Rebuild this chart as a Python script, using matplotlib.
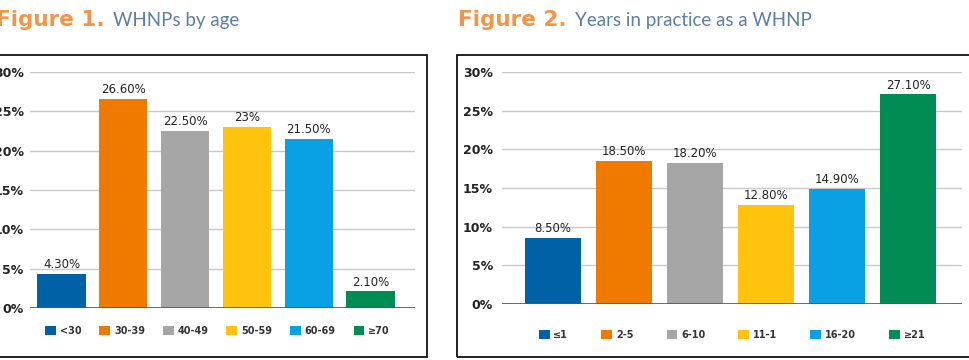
import matplotlib
matplotlib.use("Agg")
import matplotlib.pyplot as plt
from matplotlib.patches import Rectangle, Patch

# Data
age_groups = ['<30', '30-39', '40-49', '50-59', '60-69', '≥70']
age_pct = [4.3, 26.6, 22.5, 23.0, 21.5, 2.1]
age_labels = ['4.30%', '26.60%', '22.50%', '23%', '21.50%', '2.10%']

years_groups = ['≤1', '2-5', '6-10', '11-1', '16-20', '≥21']
years_pct = [8.5, 18.5, 18.2, 12.8, 14.9, 27.1]
years_labels = ['8.50%', '18.50%', '18.20%', '12.80%', '14.90%', '27.10%']

yticks = [0, 5, 10, 15, 20, 25, 30]

colors = ['#0061a6', '#f07a00', '#a6a6a6', '#ffc30d', '#0aa0e4', '#008c52']
orange_title = '#f0964a'
blue_title = '#5b7fa6'

W, H = 970, 360
fig = plt.figure(figsize=(W / 100, H / 100), dpi=100)
fig.patch.set_facecolor('white')


def px(x, y):
    # pixel coords (from top-left) -> figure fraction
    return x / W, 1 - y / H


def panel(rect, groups, vals, labels, xlim, tick_pad, leg_x, leg_y, leg_cs):
    x0, y_top, x1, y_bot = rect
    ax = fig.add_axes([x0 / W, 1 - y_bot / H, (x1 - x0) / W, (y_bot - y_top) / H])
    pos = list(range(len(groups)))
    bars = ax.bar(pos, vals, width=0.78, color=colors, zorder=3)
    for b, lab in zip(bars, labels):
        ax.annotate(lab, (b.get_x() + b.get_width() / 2, b.get_height()),
                    xytext=(0, 2), textcoords='offset points',
                    ha='center', va='bottom', fontsize=8.5, color='#222222')
    ax.set_ylim(0, 30)
    ax.set_xlim(*xlim)
    ax.set_yticks(yticks)
    ax.set_yticklabels([f'{t}%' for t in yticks], fontsize=9, fontweight='bold',
                       color='#222222')
    ax.tick_params(axis='y', length=0, pad=tick_pad)
    ax.set_xticks([])
    for s in ax.spines.values():
        s.set_visible(False)
    ax.grid(axis='y', color='#c8c8c8', linewidth=1, zorder=0)
    ax.axhline(0, color='#555555', linewidth=1.2, zorder=4)
    handles = [Patch(facecolor=c, label=g) for c, g in zip(colors, groups)]
    ax.legend(handles=handles, loc='center', bbox_to_anchor=(leg_x, leg_y),
              ncol=6, frameon=False, handlelength=1.1, handleheight=1.1,
              handletextpad=0.4, columnspacing=leg_cs,
              prop={'size': 7, 'weight': 'bold'}, labelcolor='#333333')
    return ax


ax1 = panel((30, 72, 415, 308), age_groups, age_pct, age_labels,
            (-0.51, 5.72), 4.5, 0.487, -0.097, 1.85)
ax2 = panel((502, 72, 962, 304), years_groups, years_pct, years_labels,
            (-0.72, 5.76), 6.5, 0.5, -0.134, 3.4)

# Frames around each chart
for (bx0, bx1) in [(-20, 427.5), (457.5, 990)]:
    fx0, fy1 = px(bx0, 54.5)
    fx1, fy0 = px(bx1, 356.5)
    fig.patches.append(Rectangle((fx0, fy0), fx1 - fx0, fy1 - fy0,
                                 transform=fig.transFigure, fill=False,
                                 edgecolor='#111111', linewidth=1.3))

# Titles
fig.canvas.draw()
r = fig.canvas.get_renderer()
for (tx, bold_txt, rest) in [(-4, 'Figure 1.', 'WHNPs by age'),
                              (458, 'Figure 2.', 'Years in practice as a WHNP')]:
    t1 = fig.text(*px(tx, 26), bold_txt, fontsize=15.5, fontweight='bold',
                  color=orange_title, va='baseline', family='DejaVu Sans')
    bb = t1.get_window_extent(renderer=r)
    fig.text((bb.x1 + 8) / W, 1 - 26 / H, rest, fontsize=13.5,
             color=blue_title, va='baseline', family='Lato')

fig.savefig('out.png', dpi=100)
